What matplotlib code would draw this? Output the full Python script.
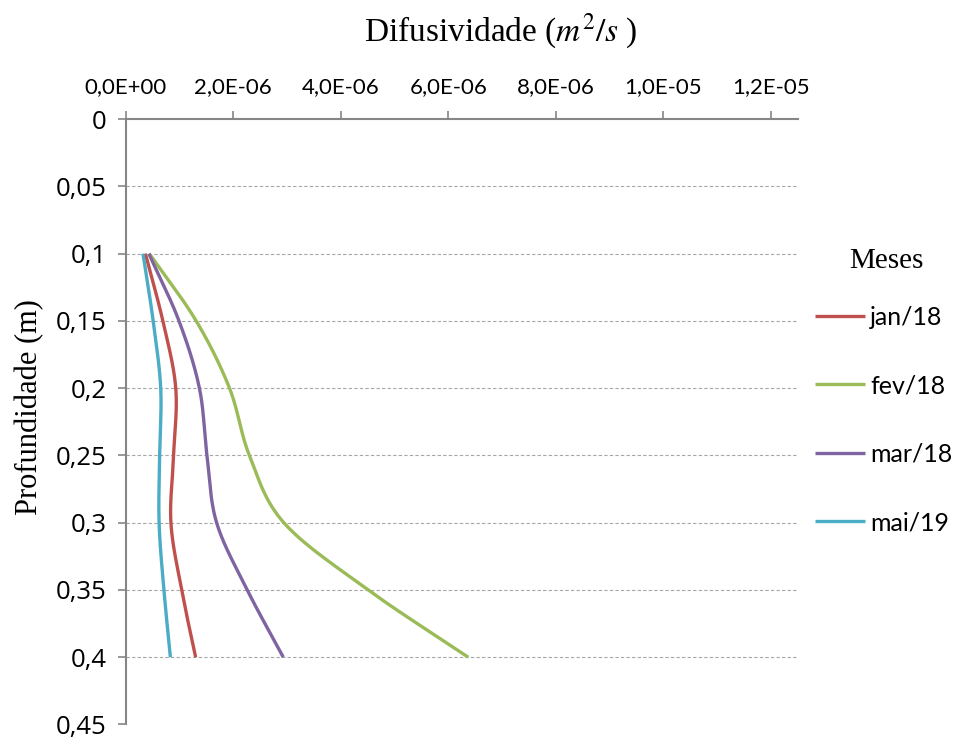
import matplotlib.pyplot as plt
import numpy as np

# depth (m) and thermal diffusivity (m2/s) per month
depth = [0.10, 0.15, 0.20, 0.25, 0.30, 0.35, 0.40]
jan18 = [0.365e-6, 0.69e-6, 0.93e-6, 0.89e-6, 0.84e-6, 1.04e-6, 1.30e-6]
fev18 = [0.44e-6, 1.31e-6, 1.93e-6, 2.30e-6, 2.94e-6, 4.51e-6, 6.37e-6]
mar18 = [0.43e-6, 0.99e-6, 1.37e-6, 1.51e-6, 1.69e-6, 2.26e-6, 2.93e-6]
mai19 = [0.32e-6, 0.51e-6, 0.65e-6, 0.63e-6, 0.62e-6, 0.71e-6, 0.83e-6]

labels = ['jan/18', 'fev/18', 'mar/18', 'mai/19']
colors = ['#C0504D', '#9BBB59', '#8064A2', '#4BACC6']

y_ticks = [0, 0.05, 0.1, 0.15, 0.2, 0.25, 0.3, 0.35, 0.4, 0.45]
y_ticklabels = ['0', '0,05', '0,1', '0,15', '0,2', '0,25', '0,3', '0,35', '0,4', '0,45']
x_ticks = [0, 2e-6, 4e-6, 6e-6, 8e-6, 1e-5, 1.2e-5]
x_ticklabels = ['0,0E+00', '2,0E-06', '4,0E-06', '6,0E-06', '8,0E-06', '1,0E-05', '1,2E-05']


def smooth(xs, ys, n=30):
    # catmull-rom curve through the points, like a spreadsheet "smoothed line"
    p = np.column_stack([xs, ys]).astype(float)
    p = np.vstack([2 * p[0] - p[1], p, 2 * p[-1] - p[-2]])
    out = []
    t = np.linspace(0, 1, n)[:, None]
    for i in range(1, len(p) - 2):
        p0, p1, p2, p3 = p[i - 1], p[i], p[i + 1], p[i + 2]
        seg = 0.5 * ((2 * p1) + (-p0 + p2) * t + (2 * p0 - 5 * p1 + 4 * p2 - p3) * t ** 2
                     + (-p0 + 3 * p1 - 3 * p2 + p3) * t ** 3)
        out.append(seg if i == 1 else seg[1:])
    out = np.vstack(out)
    return out[:, 0], out[:, 1]


plt.rcParams['mathtext.fontset'] = 'stix'

fig = plt.figure(figsize=(9.6, 7.4), dpi=100)
ax = fig.add_axes([0.131, 0.021, 0.700, 0.818])

for series, lab, col in zip([jan18, fev18, mar18, mai19], labels, colors):
    xs, ys = smooth(np.array(series) * 1e6, depth)
    ax.plot(xs * 1e-6, ys, color=col, lw=2.4, label=lab, solid_capstyle='butt')

ax.set_xlim(0, 1.25e-5)
ax.set_ylim(0.45, 0)
ax.xaxis.tick_top()
ax.set_xticks(x_ticks)
ax.set_xticklabels(x_ticklabels, fontsize=16, family='Lato')
ax.set_yticks(y_ticks)
ax.set_yticklabels(y_ticklabels, fontsize=18.5, family='Open Sans')
ax.tick_params(axis='both', colors='#868686', length=6, width=1.2, labelcolor='black')
ax.tick_params(axis='x', pad=10)
ax.tick_params(axis='y', pad=8)

for y in y_ticks[1:-1]:
    ax.axhline(y, color='#A6A6A6', lw=0.8, ls=(0, (3, 2)), zorder=0)

for s in ['right', 'bottom']:
    ax.spines[s].set_visible(False)
for s in ['left', 'top']:
    ax.spines[s].set_color('#868686')
    ax.spines[s].set_linewidth(1.5)

fig.text(0.522, 0.958, r'Difusividade ($m^2/s$ )', ha='center', va='center',
         fontsize=24, family='Liberation Serif')
fig.text(0.031, 0.45, 'Profundidade (m)', rotation=90, ha='center', va='center',
         fontsize=22, family='Liberation Serif')

# legend entries, with the "Meses" heading set above them
ax.legend(loc='upper left', bbox_to_anchor=(1.026, 0.692), frameon=False,
          handlelength=2.0, handletextpad=0.2, labelspacing=1.82,
          borderpad=0, borderaxespad=0,
          prop={'family': 'Lato', 'size': 18})
fig.text(0.923, 0.647, 'Meses', ha='center', va='center',
         fontsize=21, family='Liberation Serif')

fig.savefig('out.png', dpi=100)
